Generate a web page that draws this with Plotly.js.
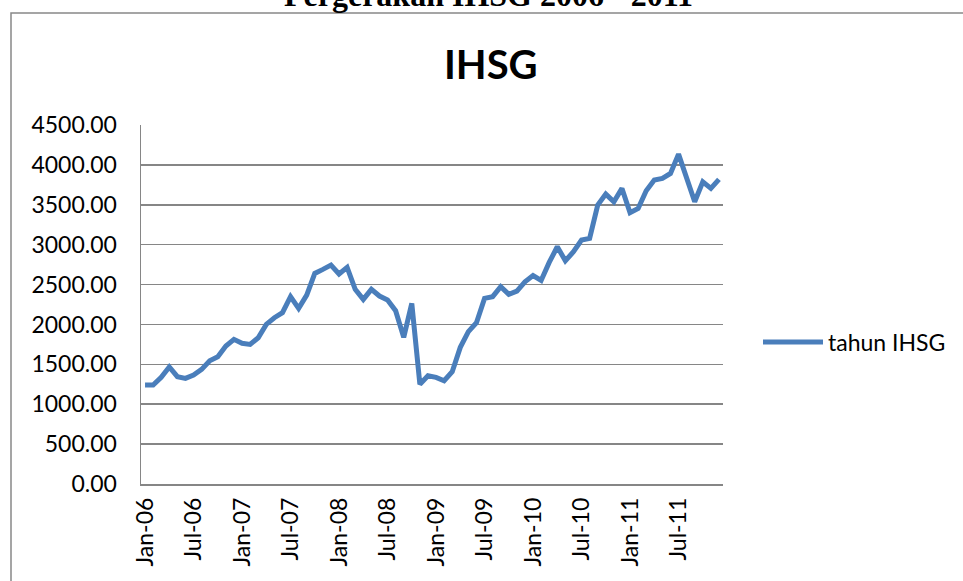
<!DOCTYPE html>
<html>
<head>
<meta charset="utf-8">
<script src="https://cdn.plot.ly/plotly-3.0.1.min.js"></script>
<style>
html,body{margin:0;padding:0;background:#fff;}
#chart{width:963px;height:581px;}
</style>
</head>
<body>
<div id="chart"></div>
<script>
const months = [
 "Jan-06","Feb-06","Mar-06","Apr-06","May-06","Jun-06","Jul-06","Aug-06","Sep-06","Oct-06","Nov-06","Dec-06",
 "Jan-07","Feb-07","Mar-07","Apr-07","May-07","Jun-07","Jul-07","Aug-07","Sep-07","Oct-07","Nov-07","Dec-07",
 "Jan-08","Feb-08","Mar-08","Apr-08","May-08","Jun-08","Jul-08","Aug-08","Sep-08","Oct-08","Nov-08","Dec-08",
 "Jan-09","Feb-09","Mar-09","Apr-09","May-09","Jun-09","Jul-09","Aug-09","Sep-09","Oct-09","Nov-09","Dec-09",
 "Jan-10","Feb-10","Mar-10","Apr-10","May-10","Jun-10","Jul-10","Aug-10","Sep-10","Oct-10","Nov-10","Dec-10",
 "Jan-11","Feb-11","Mar-11","Apr-11","May-11","Jun-11","Jul-11","Aug-11","Sep-11","Oct-11","Nov-11","Dec-11"
];
const ihsg = [
 1240,1240,1337,1468,1345,1324,1366,1437,1545,1595,1729,1813,
 1763,1750,1833,2001,2084,2147,2348,2201,2368,2640,2690,2744,
 2632,2715,2440,2314,2440,2356,2306,2172,1838,2264,1250,1357,
 1337,1295,1407,1713,1909,2022,2327,2348,2473,2377,2418,2535,
 2612,2552,2777,2974,2798,2911,3058,3079,3496,3634,3538,3705,
 3400,3454,3676,3810,3830,3893,4135,3843,3538,3788,3705,3818
];
const tickLabels = ["Jan-06","Jul-06","Jan-07","Jul-07","Jan-08","Jul-08","Jan-09","Jul-09","Jan-10","Jul-10","Jan-11","Jul-11"];
const seriesName = "tahun IHSG";
const chartTitle = "IHSG";
const pageTitle = "Pergerakan IHSG 2006 - 2011";

const L = 141, R = 723, T = 125, B = 484, W = 963, H = 581;
const px = v => (v - L) / (R - L);
const py = v => (B - v) / (B - T);
const font = "Lato, Calibri, 'Open Sans', sans-serif";

const trace = {
  x: months, y: ihsg, type: "scatter", mode: "lines", name: seriesName,
  line: {color: "#4A7EBB", width: 5}
};

const layout = {
  width: W, height: H,
  margin: {l: L, r: W - R, t: T, b: H - B, pad: 0},
  paper_bgcolor: "#fff", plot_bgcolor: "#fff",
  showlegend: true,
  legend: {x: px(758), y: py(342), xanchor: "left", yanchor: "middle",
           font: {family: font, size: 23, color: "#000"}, itemwidth: 60,
           bgcolor: "rgba(0,0,0,0)"},
  xaxis: {
    type: "category", range: [-0.5, months.length - 0.5],
    tickmode: "array", tickvals: tickLabels, ticktext: tickLabels,
    tickangle: -90, ticks: "", showgrid: false,
    showline: true, linecolor: "#868686", linewidth: 1.5,
    tickfont: {family: font, size: 23, color: "#000"},
    ticklabelstandoff: 3, zeroline: false, fixedrange: true
  },
  yaxis: {
    range: [0, 4500], dtick: 500, tick0: 0, tickformat: ".2f",
    ticks: "", showgrid: true, gridcolor: "#868686", gridwidth: 1.5,
    showline: true, linecolor: "#868686", linewidth: 1.5, zeroline: false,
    tickfont: {family: font, size: 23, color: "#000"},
    ticklabelstandoff: 18, fixedrange: true
  },
  shapes: [{
    type: "rect", xref: "paper", yref: "paper",
    x0: px(11), x1: px(1010), y0: py(13), y1: py(620),
    line: {color: "#888", width: 1.5}, fillcolor: "rgba(0,0,0,0)", layer: "below"
  }],
  annotations: [
    {text: "<b>" + chartTitle + "</b>", xref: "paper", yref: "paper",
     x: px(491), y: py(64), xanchor: "center", yanchor: "middle", showarrow: false,
     font: {family: font, size: 40, color: "#000"}},
    {text: "<b>" + pageTitle + "</b>", xref: "paper", yref: "paper",
     x: px(488), y: py(-5), xanchor: "center", yanchor: "middle", showarrow: false,
     font: {family: "'Liberation Serif', 'Times New Roman', serif", size: 32, color: "#000"}}
  ]
};

Plotly.newPlot("chart", [trace], layout, {displayModeBar: false, staticPlot: true});
</script>
</body>
</html>
